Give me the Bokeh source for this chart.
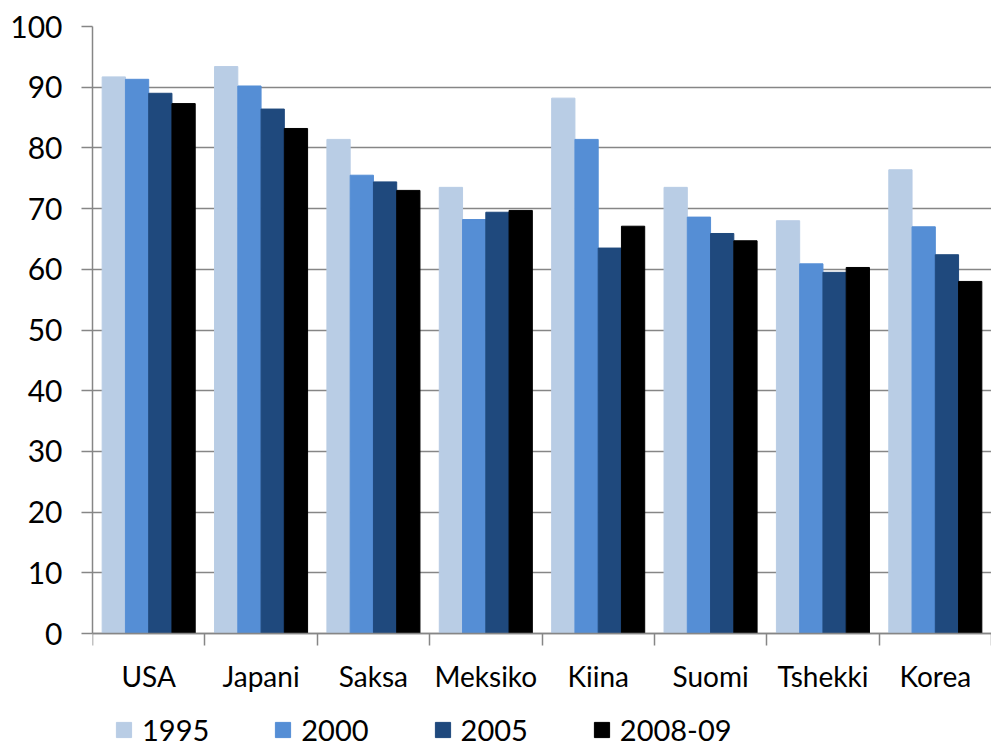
import numpy as np
from bokeh.plotting import figure
from bokeh.models import (ColumnDataSource, FixedTicker, Legend, LegendItem, Range1d)
from bokeh.transform import dodge
from bokeh.embed import file_html
from bokeh.resources import INLINE

categories = ["USA", "Japani", "Saksa", "Meksiko", "Kiina", "Suomi", "Tshekki", "Korea"]
series_names = ["1995", "2000", "2005", "2008-09"]
v1995 = [91.7, 93.4, 81.4, 73.5, 88.2, 73.5, 68.0, 76.4]
v2000 = [91.3, 90.2, 75.5, 68.2, 81.4, 68.6, 60.9, 67.0]
v2005 = [89.0, 86.4, 74.4, 69.4, 63.5, 65.9, 59.5, 62.4]
v2008 = [87.3, 83.2, 73.0, 69.7, 67.1, 64.7, 60.3, 58.0]
colors = ["#B9CDE5", "#558ED5", "#1F497D", "#000000"]
y_ticks = list(range(0, 101, 10))

FONT = "Lato"
GRAY = "#868686"

centers = np.arange(len(categories)) + 0.5
src = ColumnDataSource(dict(x=centers, v1995=v1995, v2000=v2000, v2005=v2005, v2008=v2008))

# frame extends below zero to hold the category labels and the legend
p = figure(frame_width=899, frame_height=721, output_backend="svg", toolbar_location=None,
           x_range=Range1d(0, len(categories)), y_range=Range1d(-18.78, 100),
           min_border_left=92, min_border_top=26, min_border_right=0, min_border_bottom=0)
p.outline_line_color = None

bw = 0.207
offsets = [-1.5 * bw, -0.5 * bw, 0.5 * bw, 1.5 * bw]
cols = ["v1995", "v2000", "v2005", "v2008"]
renderers = []
for col, off, c in zip(cols, offsets, colors):
    r = p.vbar(x=dodge("x", off), top=col, width=bw, source=src,
               fill_color=c, line_color=c)
    renderers.append(r)

# axes
p.xaxis.fixed_location = 0
p.xaxis.ticker = FixedTicker(ticks=list(centers), minor_ticks=list(range(len(categories) + 1)))
p.xaxis.major_label_overrides = {float(c): n for c, n in zip(centers, categories)}
p.xaxis.major_tick_out = 0
p.xaxis.major_tick_in = 0
p.xaxis.minor_tick_out = 12
p.xaxis.minor_tick_in = 0
p.xaxis.minor_tick_line_color = GRAY
p.xaxis.minor_tick_line_width = 1.5
p.xaxis.axis_line_color = GRAY
p.xaxis.axis_line_width = 1.5
p.xaxis.major_label_text_font = FONT
p.xaxis.major_label_text_font_size = "28px"
p.xaxis.major_label_text_color = "#000000"
p.xaxis.major_label_standoff = 13

p.yaxis.bounds = (0, 100)
p.yaxis.ticker = FixedTicker(ticks=y_ticks)
p.yaxis.minor_tick_line_color = None
p.yaxis.major_tick_out = 11
p.yaxis.major_tick_in = 0
p.yaxis.major_tick_line_color = GRAY
p.yaxis.major_tick_line_width = 1.5
p.yaxis.axis_line_color = GRAY
p.yaxis.axis_line_width = 1.5
p.yaxis.major_label_text_font = FONT
p.yaxis.major_label_text_font_size = "30px"
p.yaxis.major_label_text_color = "#000000"
p.yaxis.major_label_standoff = 19

p.xgrid.grid_line_color = None
p.ygrid.grid_line_color = GRAY
p.ygrid.grid_line_width = 1.5

legend = Legend(items=[LegendItem(label=n, renderers=[r]) for n, r in zip(series_names, renderers)],
                orientation="horizontal", location=(22, 0))
legend.label_text_font = FONT
legend.label_text_font_size = "29px"
legend.label_text_color = "#000000"
legend.glyph_width = 19
legend.glyph_height = 19
legend.label_standoff = 9
legend.label_height = 19
legend.spacing = 64
legend.padding = 0
legend.margin = 0
legend.border_line_color = None
legend.background_fill_alpha = 0
p.add_layout(legend, "center")

open("out.html", "w").write(file_html(p, INLINE))
